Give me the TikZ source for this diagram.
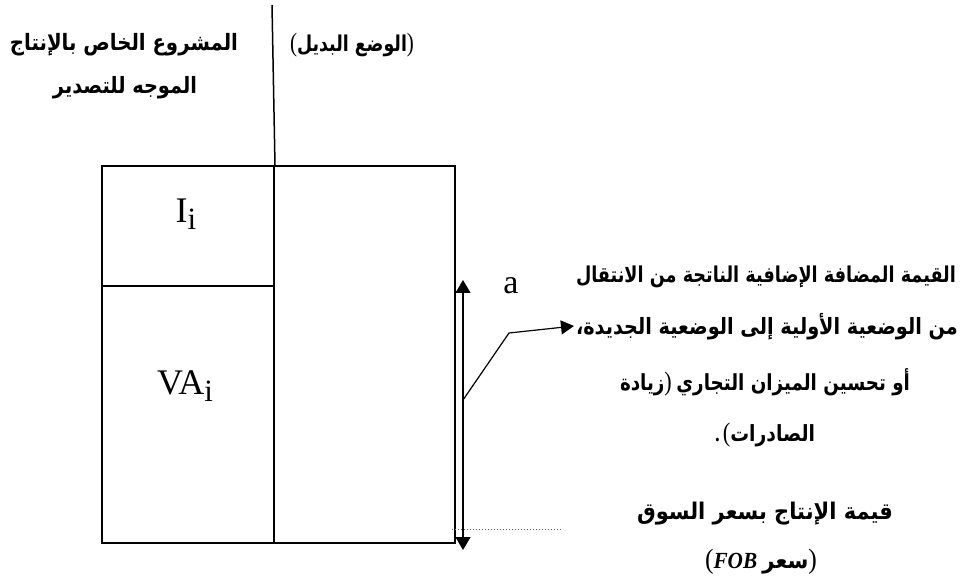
\documentclass[tikz,border=0pt]{standalone}
\usepackage{fontspec}
\setmainfont{Liberation Serif}
\newfontfamily\arfont[Script=Arabic]{DejaVu Sans}
\TeXXeTstate=1
\usetikzlibrary{arrows.meta}
\tikzset{bigtip/.tip={Triangle[width=15pt,length=13pt]},
  midtip/.tip={Triangle[width=14pt,length=13pt]}}
\newcommand{\ar}[1]{{\arfont\bfseries\beginR #1\endR}}
\newcommand{\pr}[1]{{\fontsize{29}{29}\selectfont #1}}
\newcommand{\arsize}{\fontsize{24}{28}\selectfont}
% fit a line to a target width (pt); vertical scale is a compromise
\newcommand{\fitw}[2]{%
  \setbox0\hbox{#2}%
  \pgfmathsetmacro{\myfsx}{#1/(\the\wd0)}%
  \pgfmathsetmacro{\myfsy}{(2+\myfsx)/3}%
  \scalebox{\myfsx}[\myfsy]{\box0}}
\newcommand{\TLone}{\ar{المشروع الخاص بالإنتاج}}
\newcommand{\TLtwo}{\ar{الموجه للتصدير}}
\newcommand{\TRone}{\pr{(}\ar{الوضع البديل}\pr{)}}
\newcommand{\Rone}{\ar{القيمة المضافة الإضافية الناتجة من الانتقال}}
\newcommand{\Rtwo}{\ar{من الوضعية الأولية إلى الوضعية الجديدة،}}
\newcommand{\Rthree}{\ar{زيادة}\pr{)} \ar{أو تحسين الميزان التجاري}}
\newcommand{\Rfour}{{\bfseries .}\,\pr{(}\ar{الصادرات}}
\newcommand{\Rfive}{\ar{قيمة الإنتاج بسعر السوق}}
\newcommand{\Rsix}{\pr{(}{\bfseries\itshape FOB} \ar{سعر}\pr{)}}
\begin{document}
\begin{tikzpicture}[x=1pt,y=-1pt,
  artext/.style={inner sep=0pt, font=\arsize},
  lattext/.style={inner sep=0pt, font=\fontsize{36}{40}\selectfont},
  frame/.style={line width=2pt},
  arr/.style={line width=1.2pt}]
\useasboundingbox (0,0) rectangle (969,577);
% box
\coordinate (bl) at (102,543);
\coordinate (tr) at (455,166);
\draw[frame] (bl) rectangle (tr);
\coordinate (mtop) at (274,166);
\coordinate (mbot) at (274,543);
\draw[frame] (mtop) -- (mbot);
\coordinate (hl) at (102,286);
\coordinate (hr) at (274,286);
\draw[line width=1.3pt] (hl) -- (hr);
\coordinate (vtop) at (272,5);
\coordinate (vbot) at (275,166);
\draw[line width=1.5pt] (vtop) -- (vbot);
% cell labels
\node[lattext] (ii) at (186,214) {I\raisebox{-7pt}{\fontsize{31}{31}\selectfont i}};
\node[lattext] (vai) at (185,386) {VA\raisebox{-7pt}{\fontsize{31}{31}\selectfont i}};
% arrows
\coordinate (atop) at (463,280);
\coordinate (abot) at (463,550);
\draw[arr,bigtip-bigtip] (atop) -- (abot);
\node[lattext, font=\fontsize{34}{36}\selectfont] (a) at (511,286) {a};
\coordinate (bstart) at (463,400);
\coordinate (bbend) at (509,333);
\coordinate (btip) at (574,326);
\draw[arr,-midtip] (bstart) -- (bbend) -- (btip);
\coordinate (dl) at (452,529);
\coordinate (dr) at (563,529);
\draw[line width=1pt, gray!80!black, dash pattern=on 1.2pt off 1.8pt] (dl) -- (dr);
% texts
\node[artext] (tl1) at (124,45) {\fitw{228}{\TLone}};
\node[artext] (tl2) at (125,88) {\fitw{144}{\TLtwo}};
\node[artext] (tr1) at (352,45) {\fitw{124}{\TRone}};
\node[artext] (r1) at (766,277) {\fitw{380}{\Rone}};
\node[artext] (r2) at (767,327) {\fitw{382}{\Rtwo}};
\node[artext] (r3) at (765,382) {\fitw{290}{\Rthree}};
\node[artext] (r4) at (765,435) {\fitw{100}{\Rfour}};
\node[artext] (r5) at (765,514) {\fitw{256}{\Rfive}};
\node[artext] (r6) at (761,562) {\fitw{112}{\Rsix}};
\end{tikzpicture}
\end{document}
